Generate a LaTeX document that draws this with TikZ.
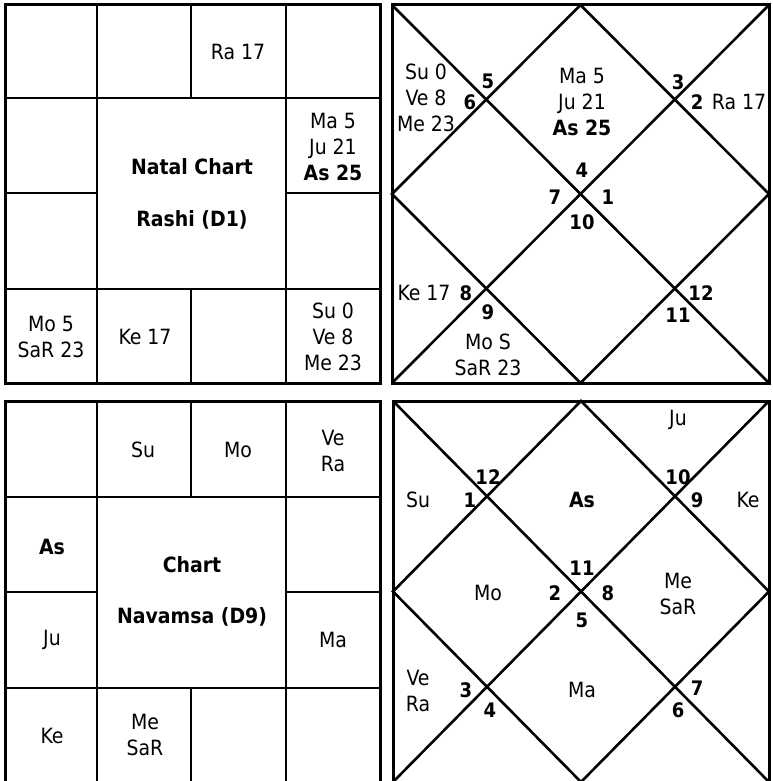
\documentclass[tikz,border=0pt]{standalone}
\usepackage{fontspec}
\setmainfont{DejaVu Sans Condensed}
\usetikzlibrary{positioning}
\tikzset{every node/.style={font=\fontsize{21}{26}\selectfont,inner sep=0pt,align=center},
  frame/.style={draw=black,line width=3pt},
  rule/.style={draw=black,line width=2.6pt},
  num/.style={font=\fontsize{20}{24}\selectfont\bfseries},
  title/.style={font=\fontsize{21}{26}\selectfont\bfseries}}
\begin{document}
\begin{tikzpicture}[x=1pt,y=-1pt]
\clip (0,0) rectangle (772,781);
\fill[white] (0,0) rectangle (772,781);
% Rashi (D1), south style: 4x4 ring of houses round a merged centre.
\draw[frame] (5,5) rectangle (380,383);
\draw[rule] (97,5)--(97,383);\draw[rule] (286,5)--(286,383);\draw[rule] (5,98)--(380,98);\draw[rule] (5,289)--(380,289);
\draw[rule] (191,5)--(191,98);\draw[rule] (191,289)--(191,383);\draw[rule] (5,193)--(97,193);\draw[rule] (286,193)--(380,193);
\node (rRa) at (238,52) {Ra 17};\node (rMa) at (333,147) {Ma 5\\Ju 21\\\textbf{As 25}};
\node[title] (rT1) at (192,167) {Natal Chart};\node[title] (rT2) at (192,220) {Rashi (D1)};
\node (rMo) at (51,337) {Mo 5\\SaR 23};\node (rKe) at (145,337) {Ke 17};\node (rSu) at (333,337) {Su 0\\Ve 8\\Me 23};
% Rashi (D1), north style: diagonals and inner diamond, house numbers at the corners.
\draw[frame] (392,5) rectangle (769,383);
\draw[rule] (392,5)--(769,383);\draw[rule] (769,5)--(392,383);\draw[rule] (580.5,5)--(769,194)--(580.5,383)--(392,194)--cycle;
\node (nSu) at (426,98) {Su 0\\Ve 8\\Me 23};\node[num] (n5) at (488,81) {5};\node[num] (n6) at (470,102) {6};
\node (nMa) at (582,102) {Ma 5\\Ju 21\\\textbf{As 25}};
\node[num] (n3) at (678,82) {3};\node[num] (n2) at (697,102) {2};\node (nRa) at (739,102) {Ra 17};
\node[num] (n4) at (582,170) {4};\node[num] (n7) at (555,197) {7};\node[num] (n1) at (608,197) {1};\node[num] (n10) at (582,222) {10};
\node (nKe) at (424,293) {Ke 17};\node[num] (n8) at (466,293) {8};\node[num] (n9) at (488,312) {9};
\node (nMo) at (488,355) {Mo S\\SaR 23};\node[num] (n12) at (701,293) {12};\node[num] (n11) at (678,315) {11};
% Navamsa (D9), south style.
\draw[frame] (5,401) rectangle (380,782);
\draw[rule] (97,401)--(97,782);\draw[rule] (286,401)--(286,782);\draw[rule] (5,497)--(380,497);\draw[rule] (5,688)--(380,688);
\draw[rule] (191,401)--(191,497);\draw[rule] (191,688)--(191,782);\draw[rule] (5,592)--(97,592);\draw[rule] (286,592)--(380,592);
\node (dSu) at (143,450) {Su};\node (dMo) at (238,450) {Mo};\node (dVe) at (333,451) {Ve\\Ra};
\node[title] (dAs) at (52,547) {As};\node[title] (dT1) at (192,565) {Chart};\node[title] (dT2) at (192,617) {Navamsa (D9)};
\node (dJu) at (52,640) {Ju};\node (dMa) at (333,640) {Ma};\node (dKe) at (52,736) {Ke};\node (dMe) at (145,735) {Me\\SaR};
% Navamsa (D9), north style.
\draw[frame] (393,401) rectangle (769,782);
\draw[rule] (393,401)--(769,782);\draw[rule] (769,401)--(393,782);\draw[rule] (581,401)--(769,591.5)--(581,782)--(393,591.5)--cycle;
\node (mJu) at (678,420) {Ju};
\node (mSu) at (418,500) {Su};\node[num] (m12) at (488,477) {12};\node[num] (m1) at (470,500) {1};
\node[title] (mAs) at (582,500) {As};
\node[num] (m10) at (678,477) {10};\node[num] (m9) at (697,500) {9};\node (mKe) at (748,500) {Ke};
\node[num] (m11) at (582,568) {11};\node[num] (m2) at (555,593) {2};\node[num] (m8) at (608,593) {8};\node[num] (m5) at (582,620) {5};
\node (mMo) at (488,593) {Mo};\node (mMe) at (678,594) {Me\\SaR};
\node (mVe) at (418,691) {Ve\\Ra};\node[num] (m3) at (466,690) {3};\node[num] (m4) at (490,710) {4};
\node (mMa) at (582,690) {Ma};\node[num] (m7) at (697,688) {7};\node[num] (m6) at (678,710) {6};
\end{tikzpicture}
\end{document}
